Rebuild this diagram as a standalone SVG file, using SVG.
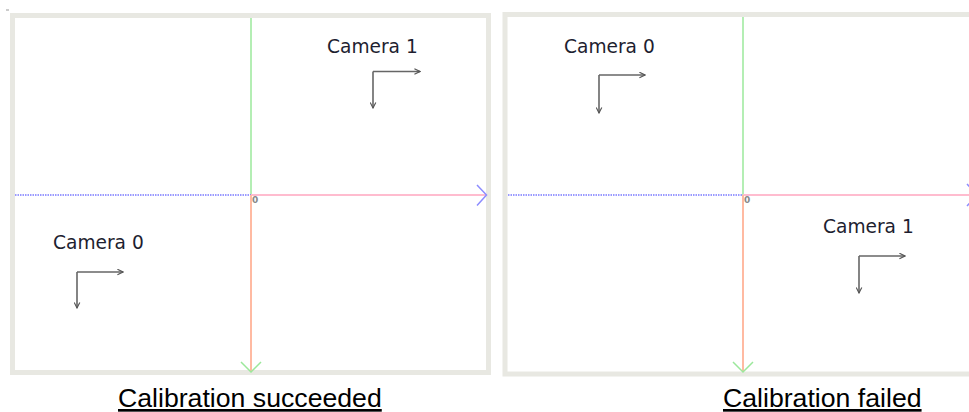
<svg xmlns="http://www.w3.org/2000/svg" width="969" height="412" viewBox="0 0 969 412">
<defs>
<marker id="cam" viewBox="0 0 10 10" refX="9" refY="5" markerWidth="7" markerHeight="7" markerUnits="userSpaceOnUse" orient="auto">
<path d="M1,1 L9,5 L1,9" fill="none" stroke="#555" stroke-width="1.6"/>
</marker>
<style>
.frame{fill:#fff;stroke:#e8e8e2;stroke-width:5}
.ax-g{stroke:#9be89b;stroke-width:1.5;fill:none}
.ax-b{stroke:#7a7aff;stroke-width:1.5;stroke-dasharray:1.5 1;fill:none}
.ax-p{stroke:#ffbccf;stroke-width:2;fill:none}
.ax-o{stroke:#ffbaa2;stroke-width:2;fill:none}
.chev-b{stroke:#8c8cff;stroke-width:1.5;fill:none}
.chev-g{stroke:#9be89b;stroke-width:1.5;fill:none}
.cam{stroke:#666;stroke-width:1.6;fill:none;marker-end:url(#cam)}
.lbl{font-family:"DejaVu Sans",Verdana,sans-serif;font-size:18.6px;fill:#1e1e30}
.org{font-family:"DejaVu Sans",sans-serif;font-size:9px;font-weight:bold;fill:#888}
.cap{font-family:"Liberation Sans",Arial,sans-serif;font-size:26.67px;fill:#000;text-decoration:underline}
</style>
</defs>
<rect width="969" height="412" fill="#fff"/>
<line x1="6" y1="10" x2="9" y2="10" stroke="#999" stroke-width="1"/>

<g id="panel-success">
<rect class="frame" x="12.5" y="15.5" width="476" height="357"/>
<g id="axes-success">
<line class="ax-g" x1="251" y1="18" x2="251" y2="195"/>
<line class="ax-b" x1="15" y1="195" x2="251" y2="195"/>
<line class="ax-p" x1="251" y1="195" x2="486" y2="195"/>
<line class="ax-o" x1="251" y1="195" x2="251" y2="371"/>
<path class="chev-b" d="M477,185 L486.5,195 L477,205.5"/>
<path class="chev-g" d="M241,362 L251,372 L261,362"/>
<text class="org" x="252" y="203">0</text>
</g>
<g id="cam1-success">
<text class="lbl" x="327" y="53">Camera 1</text>
<path class="cam" d="M373,71.5 L420,71.5"/>
<path class="cam" d="M373,71.5 L373,108"/>
</g>
<g id="cam0-success">
<text class="lbl" x="53" y="249">Camera 0</text>
<path class="cam" d="M77,272 L123,272"/>
<path class="cam" d="M77,272 L77,308"/>
</g>
<text class="cap" x="118" y="407">Calibration succeeded</text>
</g>

<g id="panel-failed">
<rect class="frame" x="505" y="14.5" width="480" height="359.5"/>
<g id="axes-failed">
<line class="ax-g" x1="743" y1="17" x2="743" y2="195"/>
<line class="ax-b" x1="508" y1="195" x2="743" y2="195"/>
<line class="ax-p" x1="743" y1="195" x2="975" y2="195"/>
<line class="ax-o" x1="743" y1="195" x2="743" y2="371"/>
<path class="chev-b" d="M967,184 L977.5,195 L967,206"/>
<path class="chev-g" d="M733,362 L743,372 L753,362"/>
<text class="org" x="744" y="203">0</text>
</g>
<g id="cam0-failed">
<text class="lbl" x="564" y="53">Camera 0</text>
<path class="cam" d="M599,75 L645,75"/>
<path class="cam" d="M599,75 L599,113"/>
</g>
<g id="cam1-failed">
<text class="lbl" x="823" y="233">Camera 1</text>
<path class="cam" d="M859,256 L905,256"/>
<path class="cam" d="M859,256 L859,293"/>
</g>
<text class="cap" x="723" y="407">Calibration failed</text>
</g>
</svg>
